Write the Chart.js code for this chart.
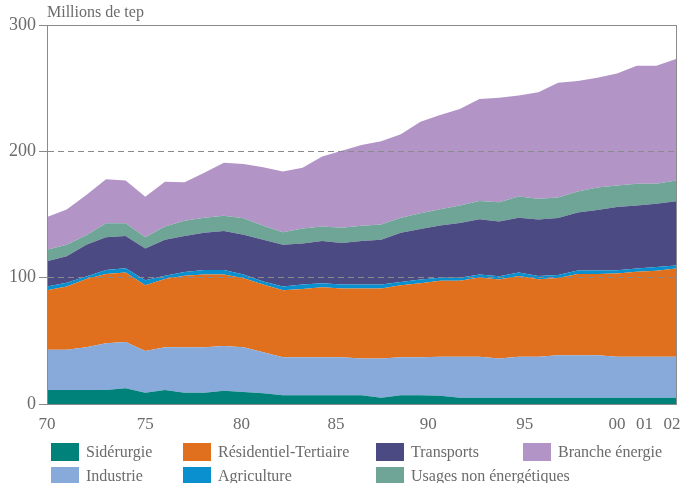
<!DOCTYPE html>
<html>
<head>
<meta charset="utf-8">
<script src="https://cdn.jsdelivr.net/npm/chart.js@4/dist/chart.umd.min.js"></script>
<style>
  body { margin: 0; background: #fff; }
  #wrap { position: relative; width: 685px; height: 483px; font-family: "Liberation Serif", "DejaVu Serif", serif; color: #6b6b6b; }
  #unit { position: absolute; left: 47px; top: 3px; font-size: 16px; }
  #legend { position: absolute; left: 51px; top: 443px; display: grid; grid-template-columns: 132px 193px 147px auto; row-gap: 6px; font-size: 16px; }
  .item { display: flex; align-items: center; height: 18px; white-space: nowrap; }
  .box { flex: 0 0 28px; width: 28px; height: 18px; margin-right: 7px; }
</style>
</head>
<body>
<div id="wrap">
  <canvas id="chart1" width="685" height="483"></canvas>
  <div id="unit">Millions de tep</div>
  <div id="legend"></div>
</div>
<script>
var years = [1970, 1971, 1972, 1973, 1974, 1975, 1976, 1977, 1978, 1979, 1980, 1981, 1982, 1983, 1984, 1985, 1986,
             1987, 1988, 1989, 1990, 1991, 1992, 1993, 1994, 1995, 1996, 1997, 1998, 1999, 2000, 2001, 2002];
// the original spreads the last labels apart, so they sit a little left of their year
var tickPos = [1970, 1975, 1979.9, 1984.7, 1989.4, 1994.3, 1999, 2000.4, 2001.8];
var tickLabels = ['70', '75', '80', '85', '90', '95', '00', '01', '02'];
var yTicks = [0, 100, 200, 300];

// Millions de tep, one value per year (stacked from the bottom)
var siderurgie = [11, 11, 11, 11, 12.4, 9, 11, 9, 9, 10.5, 9.5, 8.5, 7, 7, 7, 7, 7,
                  5, 7, 7, 6.5, 5, 5, 5, 5, 5, 5, 5, 5, 5, 5, 5, 5];
var industrie = [32, 32, 34, 37, 36.6, 33, 34, 36, 36, 35.5, 35.5, 32.5, 30, 30, 30, 30, 29,
                 31, 30, 30, 31, 32.5, 32.5, 31, 32.5, 32.5, 33.5, 33.5, 33.5, 32.5, 32.5, 32.5, 32.5];
var residentiel = [47, 50, 54, 55, 55, 52, 54, 56.5, 57.5, 56.5, 54.5, 53.5, 53, 54, 55.5, 54.5, 55.5,
                   55.5, 57, 58.5, 60, 60, 62.6, 62.6, 63.9, 61.3, 61.3, 64.5, 64.5, 65.8, 67.1, 67.9, 69.7];
var agriculture = [3, 3, 2, 3, 3.5, 4, 2.5, 3, 3.5, 3.5, 3, 2.5, 3, 3.5, 3, 3, 3,
                   3, 2.5, 3, 2.5, 2.5, 2.5, 2.6, 2.7, 2.6, 2.4, 2.6, 2.6, 2.6, 2.6, 3.1, 2.4];
var transports = [20, 21, 25, 26, 25.5, 25, 28.5, 28.5, 29.5, 31, 31.5, 33, 33, 32.5, 33.5, 33, 34.5,
                  35.5, 39, 40, 41.2, 43.2, 43.6, 43.2, 43.4, 44.7, 45, 46, 47.9, 50, 50, 50, 50.8];
var usages = [9, 9, 7.5, 11, 10, 9, 10.5, 12, 12, 12, 13, 11, 10, 12, 11.5, 12, 12,
              12, 12, 12.5, 13, 14, 14.5, 15.2, 16.8, 16.4, 16.3, 16.6, 17.9, 17.1, 17.1, 15.8, 16.5];
var branche = [26, 28, 32, 35, 34, 32, 35.5, 30.5, 35.5, 42, 43, 46.5, 48, 48, 55.5, 61, 64,
               66, 66, 72.5, 74.5, 76.4, 80.8, 82.9, 79.8, 84.2, 90.8, 87.4, 86.8, 88.7, 93.4, 93.4, 96.2];

var series = [
  { label: 'Sidérurgie', data: siderurgie, color: '#00827a' },
  { label: 'Industrie', data: industrie, color: '#87aadb' },
  { label: 'Résidentiel-Tertiaire', data: residentiel, color: '#e0701e' },
  { label: 'Agriculture', data: agriculture, color: '#0a90cf' },
  { label: 'Transports', data: transports, color: '#4b4a82' },
  { label: 'Usages non énergétiques', data: usages, color: '#6fa596' },
  { label: 'Branche énergie', data: branche, color: '#b295c6' }
];
// legend order, as in the picture (two rows of four columns)
var legendOrder = ['Sidérurgie', 'Résidentiel-Tertiaire', 'Transports', 'Branche énergie',
                   'Industrie', 'Agriculture', 'Usages non énergétiques'];

var datasets = series.map(function (s, i) {
  return {
    label: s.label,
    data: s.data.map(function (v, j) { return { x: years[j], y: v }; }),
    backgroundColor: s.color,
    borderColor: s.color,
    borderWidth: 0,
    pointRadius: 0,
    tension: 0,
    fill: i === 0 ? 'origin' : '-1'
  };
});

var grey = '#8a8a8a';
var tickFont = { family: '"Liberation Serif", serif', size: 17 };

var ctx = document.getElementById('chart1').getContext('2d');
var myChart = new Chart(ctx, {
  type: 'line',
  data: { datasets: datasets },
  options: {
    responsive: false,
    animation: false,
    layout: { padding: { top: 25, right: 9, bottom: 53, left: 0 } },
    plugins: {
      legend: { display: false },
      tooltip: { enabled: false }
    },
    scales: {
      x: {
        type: 'linear',
        min: 1970,
        max: 2002,
        afterBuildTicks: function (scale) {
          scale.ticks = tickPos.map(function (v) { return { value: v }; });
        },
        afterFit: function (scale) { scale.height = 26; },
        ticks: {
          color: '#6b6b6b',
          font: tickFont,
          maxRotation: 0,
          autoSkip: false,
          padding: 2,
          callback: function (v, i) { return tickLabels[i]; }
        },
        grid: { display: false },
        border: { color: grey, width: 1, z: 1 }
      },
      y: {
        stacked: true,
        min: 0,
        max: 300,
        afterBuildTicks: function (scale) {
          scale.ticks = yTicks.map(function (v) { return { value: v }; });
        },
        afterFit: function (scale) { scale.width = 47; },
        ticks: { color: '#6b6b6b', font: { family: '"Liberation Serif", serif', size: 18 }, padding: 3 },
        grid: {
          z: 1,
          tickLength: 8,
          tickColor: grey,
          color: function (c) { return c.tick && c.tick.value === 0 ? 'rgba(0,0,0,0)' : grey; }
        },
        border: {
          color: grey,
          width: 1,
          z: 1,
          dash: function (c) {
            return c.tick && (c.tick.value === 100 || c.tick.value === 200) ? [6, 4] : [];
          }
        }
      },
      // empty axis on the right, only to close the frame
      yRight: {
        position: 'right',
        min: 0,
        max: 300,
        afterFit: function (scale) { scale.width = 0; },
        ticks: { display: false },
        grid: { display: false },
        border: { color: grey, width: 1, z: 1 }
      }
    }
  }
});

// legend in HTML, laid out in columns like the original
var legend = document.getElementById('legend');
legendOrder.forEach(function (name, k) {
  var s = series.filter(function (d) { return d.label === name; })[0];
  var item = document.createElement('div');
  item.className = 'item';
  item.innerHTML = '<span class="box" style="background:' + s.color + '"></span><span>' + s.label + '</span>';
  legend.appendChild(item);
});
</script>
</body>
</html>
